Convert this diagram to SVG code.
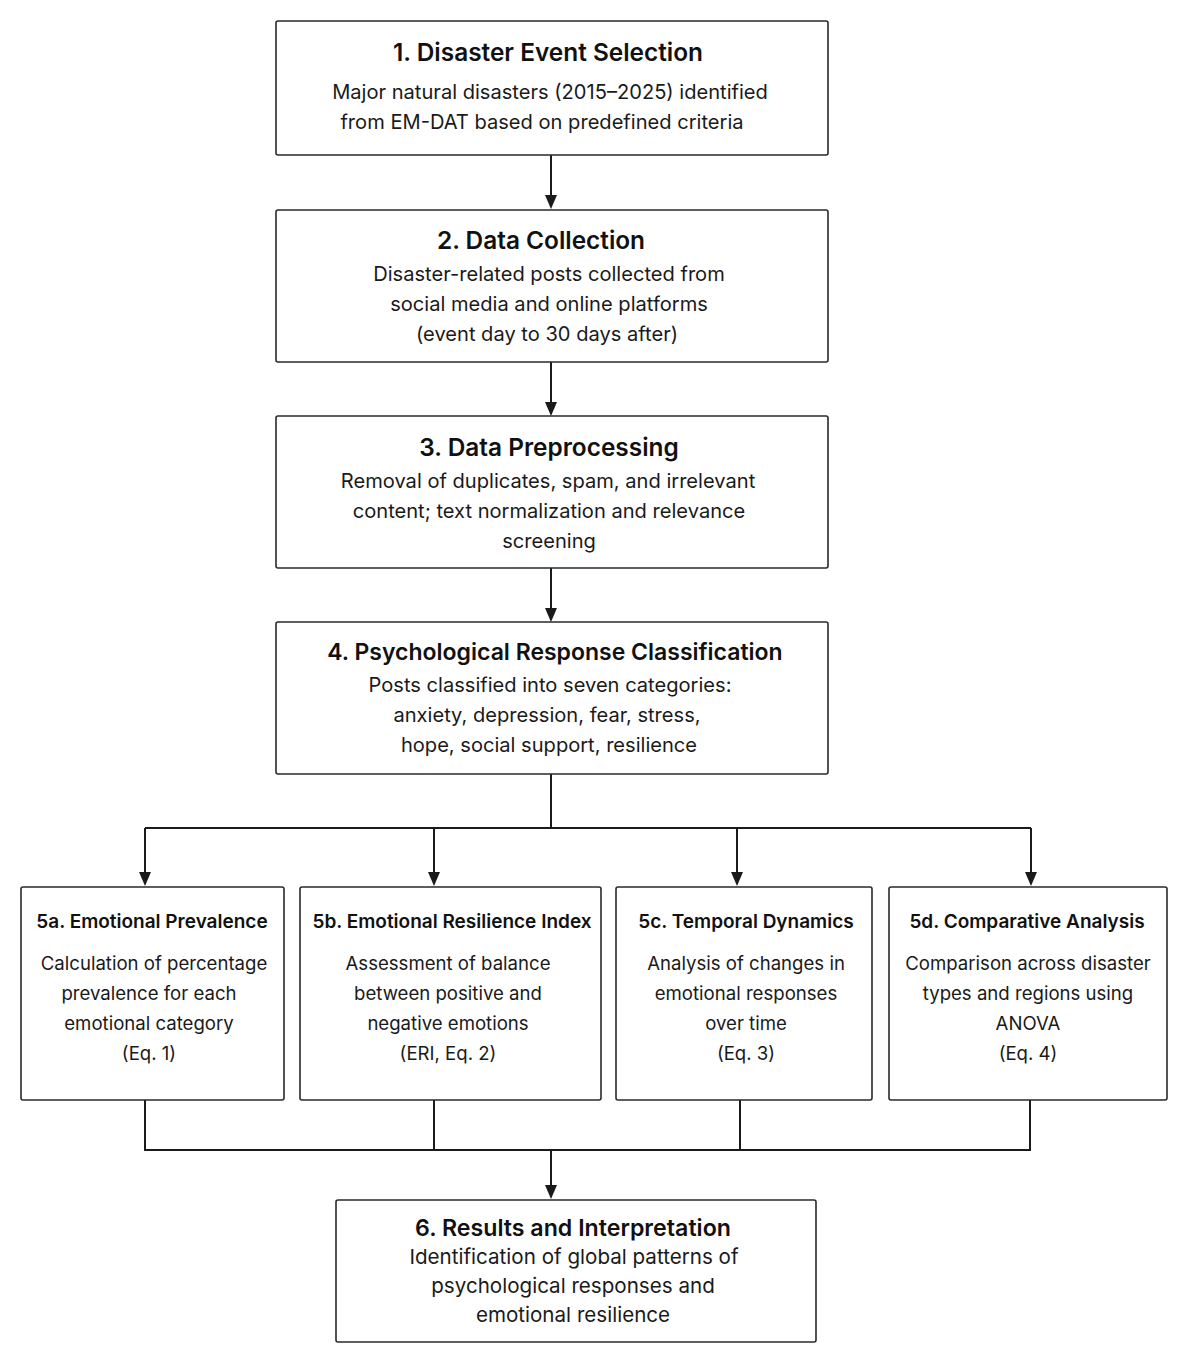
<svg xmlns="http://www.w3.org/2000/svg" width="1187" height="1358" viewBox="0 0 1187 1358">
<style>
.box{fill:#fff;stroke:#2a2a2a;stroke-width:1.6}
.t{font-family:Inter,"Open Sans","DejaVu Sans",sans-serif;font-weight:600;fill:#111;text-anchor:middle}
.b{font-family:Inter,"Open Sans","DejaVu Sans",sans-serif;font-weight:400;fill:#1a1a1a;text-anchor:middle}
.t1{font-size:24.4px}
.t4{font-size:23px}
.b1{font-size:20.1px}
.t6{font-size:23.2px}
.b6{font-size:20.6px}
.t5{font-size:19px}
.b5{font-size:18.6px}
.c{fill:none;stroke:#1a1a1a;stroke-width:2}
.ah{fill:#1a1a1a}
</style>
<rect width="1187" height="1358" fill="#fff"/>
<g id="connectors">
<path class="c" d="M551,155 V196"/>
<path class="ah" d="M545,195 L557,195 L551,209 Z"/>
<path class="c" d="M551,362 V403"/>
<path class="ah" d="M545,402 L557,402 L551,416 Z"/>
<path class="c" d="M551,568 V609"/>
<path class="ah" d="M545,608 L557,608 L551,622 Z"/>
<path class="c" d="M551,774 V828 M145,828 H1031 M145,828 V873 M434,828 V873 M737,828 V873 M1031,828 V873"/>
<path class="ah" d="M139,872 L151,872 L145,886 Z"/>
<path class="ah" d="M428,872 L440,872 L434,886 Z"/>
<path class="ah" d="M731,872 L743,872 L737,886 Z"/>
<path class="ah" d="M1025,872 L1037,872 L1031,886 Z"/>
<path class="c" d="M145,1100 V1150 M434,1100 V1150 M740,1100 V1150 M1030,1100 V1150 M144,1150 H1031 M551,1150 V1186"/>
<path class="ah" d="M545,1185 L557,1185 L551,1199 Z"/>
</g>
<g id="n1">
<rect class="box" x="276" y="21" width="552" height="134" rx="2"/>
<text class="t t1" x="548" y="61">1. Disaster Event Selection</text>
<text class="b b1" x="550" y="99">Major natural disasters (2015–2025) identified</text>
<text class="b b1" x="542" y="129">from EM-DAT based on predefined criteria</text>
</g>
<g id="n2">
<rect class="box" x="276" y="210" width="552" height="152" rx="2"/>
<text class="t t1" x="541" y="249">2. Data Collection</text>
<text class="b b1" x="549" y="281">Disaster-related posts collected from</text>
<text class="b b1" x="549" y="311">social media and online platforms</text>
<text class="b b1" x="547" y="341">(event day to 30 days after)</text>
</g>
<g id="n3">
<rect class="box" x="276" y="416" width="552" height="152" rx="2"/>
<text class="t t1" x="549" y="456">3. Data Preprocessing</text>
<text class="b b1" x="548" y="488">Removal of duplicates, spam, and irrelevant</text>
<text class="b b1" x="549" y="518">content; text normalization and relevance</text>
<text class="b b1" x="549" y="548">screening</text>
</g>
<g id="n4">
<rect class="box" x="276" y="622" width="552" height="152" rx="2"/>
<text class="t t4" x="555" y="660">4. Psychological Response Classification</text>
<text class="b b1" x="550" y="692">Posts classified into seven categories:</text>
<text class="b b1" x="547" y="722">anxiety, depression, fear, stress,</text>
<text class="b b1" x="549" y="752">hope, social support, resilience</text>
</g>
<g id="n5a">
<rect class="box" x="21" y="887" width="263" height="213" rx="2"/>
<text class="t t5" x="152" y="928">5a. Emotional Prevalence</text>
<text class="b b5" x="154" y="970">Calculation of percentage</text>
<text class="b b5" x="149" y="1000">prevalence for each</text>
<text class="b b5" x="149" y="1030">emotional category</text>
<text class="b b5" x="149" y="1060">(Eq. 1)</text>
</g>
<g id="n5b">
<rect class="box" x="300" y="887" width="301" height="213" rx="2"/>
<text class="t t5" x="452" y="928">5b. Emotional Resilience Index</text>
<text class="b b5" x="448" y="970">Assessment of balance</text>
<text class="b b5" x="448" y="1000">between positive and</text>
<text class="b b5" x="448" y="1030">negative emotions</text>
<text class="b b5" x="448" y="1060">(ERI, Eq. 2)</text>
</g>
<g id="n5c">
<rect class="box" x="616" y="887" width="256" height="213" rx="2"/>
<text class="t t5" x="746" y="928">5c. Temporal Dynamics</text>
<text class="b b5" x="746" y="970">Analysis of changes in</text>
<text class="b b5" x="746" y="1000">emotional responses</text>
<text class="b b5" x="746" y="1030">over time</text>
<text class="b b5" x="746" y="1060">(Eq. 3)</text>
</g>
<g id="n5d">
<rect class="box" x="889" y="887" width="278" height="213" rx="2"/>
<text class="t t5" x="1027" y="928">5d. Comparative Analysis</text>
<text class="b b5" x="1028" y="970">Comparison across disaster</text>
<text class="b b5" x="1028" y="1000">types and regions using</text>
<text class="b b5" x="1028" y="1030">ANOVA</text>
<text class="b b5" x="1028" y="1060">(Eq. 4)</text>
</g>
<g id="n6">
<rect class="box" x="336" y="1200" width="480" height="142" rx="2"/>
<text class="t t6" x="573" y="1236">6. Results and Interpretation</text>
<text class="b b6" x="574" y="1264">Identification of global patterns of</text>
<text class="b b6" x="573" y="1293">psychological responses and</text>
<text class="b b6" x="573" y="1322">emotional resilience</text>
</g>
</svg>
